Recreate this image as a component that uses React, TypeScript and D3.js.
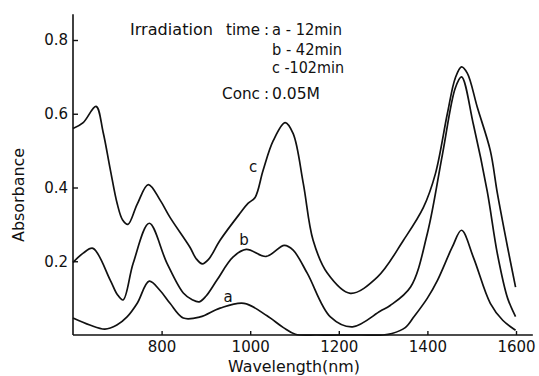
import React, { useRef, useEffect } from 'react';
import * as d3 from 'd3';

// spectra: wavelength (nm) / absorbance
const wlA = [600, 638, 672, 699, 722, 745, 772, 797, 819, 849, 887, 932, 986, 1038, 1075, 1102, 1150, 1200, 1250, 1300, 1320, 1350, 1370, 1400, 1423, 1456, 1477, 1504, 1542, 1570, 1599];
const absA = [0.046, 0.027, 0.016, 0.027, 0.049, 0.086, 0.146, 0.12, 0.086, 0.046, 0.049, 0.073, 0.086, 0.052, 0.02, 0.002, 0, 0, 0, 0, 0.004, 0.02, 0.05, 0.1, 0.149, 0.238, 0.284, 0.21, 0.086, 0.04, 0.013];

const wlB = [600, 623, 645, 684, 700, 713, 736, 772, 812, 849, 870, 885, 900, 925, 961, 991, 1036, 1077, 1097, 1129, 1181, 1231, 1294, 1316, 1362, 1400, 1434, 1463, 1477, 1504, 1535, 1558, 1581, 1599];
const absB = [0.197, 0.222, 0.235, 0.149, 0.11, 0.095, 0.195, 0.303, 0.195, 0.114, 0.095, 0.09, 0.105, 0.149, 0.211, 0.232, 0.213, 0.243, 0.23, 0.167, 0.049, 0.022, 0.065, 0.08, 0.13, 0.276, 0.49, 0.67, 0.7, 0.57, 0.39, 0.22, 0.1, 0.05];

const wlC = [600, 623, 652, 668, 684, 700, 712, 724, 745, 770, 797, 819, 864, 878, 892, 906, 932, 977, 995, 1011, 1029, 1052, 1079, 1097, 1120, 1142, 1174, 1226, 1287, 1346, 1391, 1418, 1445, 1463, 1477, 1490, 1513, 1542, 1558, 1581, 1599];
const absC = [0.56, 0.576, 0.62, 0.55, 0.45, 0.355, 0.312, 0.3, 0.355, 0.408, 0.365, 0.319, 0.238, 0.207, 0.193, 0.205, 0.257, 0.33, 0.357, 0.373, 0.446, 0.527, 0.576, 0.546, 0.41, 0.257, 0.168, 0.113, 0.157, 0.257, 0.346, 0.437, 0.6, 0.697, 0.727, 0.71, 0.616, 0.5, 0.384, 0.238, 0.13];

const xTicks = [800, 1000, 1200, 1400, 1600];
const yTicks = [0.2, 0.4, 0.6, 0.8];

export default function App() {
  const svgRef = useRef<SVGSVGElement>(null);

  useEffect(() => {
    const width = 539;
    const height = 376;
    const font = '"DejaVu Sans", sans-serif';

    const x = d3.scaleLinear().domain([600, 1600]).range([73, 516]);
    const y = d3.scaleLinear().domain([0, 0.8]).range([335, 40]);

    const svg = d3.select(svgRef.current);
    svg.selectAll('*').remove();
    svg.attr('width', width).attr('height', height)
      .attr('viewBox', [0, 0, width, height])
      .style('font-family', font);

    svg.append('rect').attr('width', width).attr('height', height).attr('fill', '#fff');

    // axes
    svg.append('line')
      .attr('x1', x(600)).attr('x2', x(600))
      .attr('y1', y(0.87)).attr('y2', y(0))
      .attr('stroke', '#111').attr('stroke-width', 1.6);
    svg.append('line')
      .attr('x1', x(600)).attr('x2', x(1638))
      .attr('y1', y(0)).attr('y2', y(0))
      .attr('stroke', '#111').attr('stroke-width', 1.6);

    svg.append('g')
      .attr('transform', `translate(${x(600)},0)`)
      .call(d3.axisLeft(y).tickValues(yTicks).tickSizeInner(-5).tickSizeOuter(0).tickPadding(5).tickFormat(d3.format('.1f')))
      .call(g => g.select('.domain').remove())
      .call(g => g.selectAll('.tick line').attr('stroke', '#111').attr('stroke-width', 1.4))
      .call(g => g.selectAll('.tick text').attr('font-size', 15).attr('font-family', font).attr('fill', '#111'));

    svg.append('g')
      .attr('transform', `translate(0,${y(0)})`)
      .call(d3.axisBottom(x).tickValues(xTicks).tickSizeInner(-4).tickSizeOuter(0).tickPadding(6).tickFormat(d3.format('d')))
      .call(g => g.select('.domain').remove())
      .call(g => g.selectAll('.tick line').attr('stroke', '#111').attr('stroke-width', 1.4))
      .call(g => g.selectAll('.tick text').attr('font-size', 15).attr('font-family', font).attr('fill', '#111'));

    // spectra
    const line = d3.line<[number, number]>()
      .x(d => x(d[0]))
      .y(d => y(d[1]))
      .curve(d3.curveCatmullRom.alpha(0.5));

    const series: [number[], number[]][] = [[wlA, absA], [wlB, absB], [wlC, absC]];
    svg.append('g')
      .attr('fill', 'none')
      .attr('stroke', '#111')
      .attr('stroke-width', 1.7)
      .selectAll('path')
      .data(series)
      .join('path')
      .attr('d', ([w, a]) => line(w.map((v, i) => [v, a[i]] as [number, number])));

    // curve letters
    const tag = (t: string, px: number, py: number) =>
      svg.append('text').attr('x', px).attr('y', py).attr('font-size', 15).attr('text-anchor', 'middle').attr('fill', '#111').text(t);
    tag('a', 228, 302);
    tag('b', 244, 245);
    tag('c', 253, 172);

    // notes
    const note = (t: string, px: number, py: number, len?: number) => {
      const el = svg.append('text').attr('x', px).attr('y', py).attr('font-size', 15).attr('fill', '#111').text(t);
      if (len) el.attr('textLength', len).attr('lengthAdjust', 'spacingAndGlyphs');
    };
    note('Irradiation', 130, 35, 83);
    note('time', 226, 35, 34);
    note(':', 264, 35);
    note('a - 12min', 272, 35, 70);
    note('b - 42min', 272, 55, 70);
    note('c -102min', 272, 73, 72);
    note('Conc', 222, 99, 38);
    note(':', 264, 99);
    note('0.05M', 272, 99, 48);

    // axis titles
    svg.append('text')
      .attr('x', 294).attr('y', 372)
      .attr('text-anchor', 'middle').attr('font-size', 15).attr('fill', '#111')
      .attr('textLength', 132).attr('lengthAdjust', 'spacingAndGlyphs')
      .text('Wavelength(nm)');
    svg.append('text')
      .attr('transform', 'translate(24,195) rotate(-90)')
      .attr('text-anchor', 'middle').attr('font-size', 15).attr('fill', '#111')
      .attr('textLength', 94).attr('lengthAdjust', 'spacingAndGlyphs')
      .text('Absorbance');
  }, []);

  return (
    <div style={{ position: 'fixed', left: 0, top: 0 }}>
      <svg ref={svgRef}></svg>
    </div>
  );
}
